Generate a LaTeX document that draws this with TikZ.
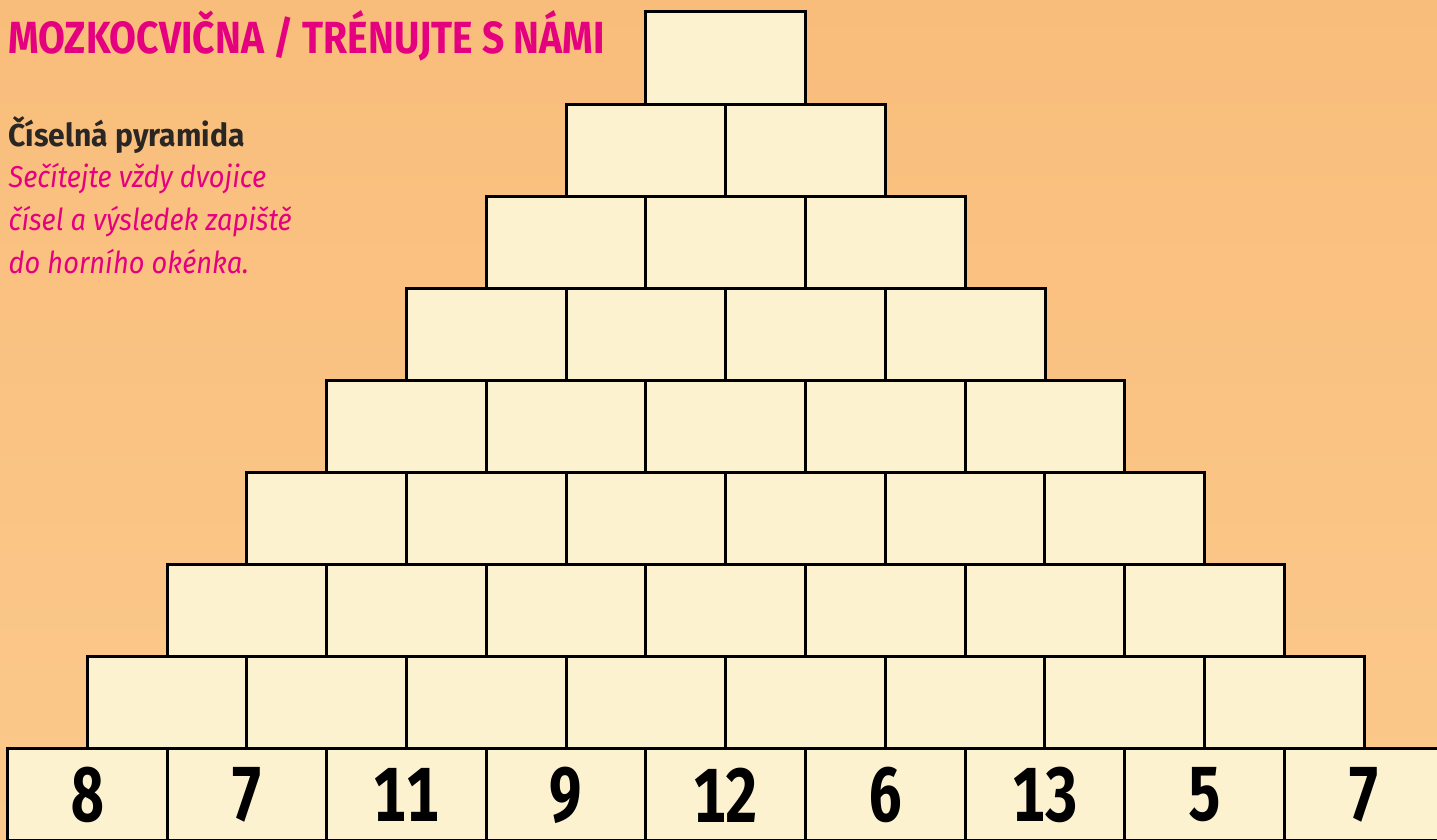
\documentclass[tikz,border=0pt]{standalone}
\usepackage{fontspec}
\newfontfamily\titlefont[FakeStretch=0.865]{Fira Sans}
\newfontfamily\puzzlefont[FakeStretch=0.95]{Fira Sans}
\newfontfamily\hintfont[FakeStretch=0.90]{Fira Sans}
\newfontfamily\numfont[FakeStretch=0.76, Numbers=Monospaced]{Fira Sans}

\definecolor{bgtop}{RGB}{249,189,123}
\definecolor{bgmid}{RGB}{252,207,145}
\definecolor{bgbottom}{RGB}{251,201,139}
\definecolor{brickfill}{RGB}{253,242,208}
\definecolor{titlepink}{RGB}{228,0,127}
\definecolor{darktext}{RGB}{42,38,36}

\tikzset{
    brick/.style={draw=black, fill=brickfill, line width=0.85pt,
        minimum width=1.596cm, minimum height=0.921cm, inner sep=0pt},
    headline/.style={anchor=base west, inner sep=0pt},
    hintline/.style={headline, text=titlepink, font=\hintfont\itshape\fontsize{8.6}{10}\selectfont}
}

\begin{document}
\begin{tikzpicture}[x=0.01cm, y=-0.01cm]
    % Page area and orange background
    \useasboundingbox (0,0) rectangle (1437,839);
    \clip (0,0) rectangle (1437,839);
    \shade[top color=bgtop, middle color=bgmid, bottom color=bgbottom] (0,0) rectangle (1437,839);

    % Title and instructions
    \node[headline, text=titlepink, font=\titlefont\bfseries\fontsize{12.8}{15}\selectfont] (title) at (8,53) {MOZKOCVIČNA / TRÉNUJTE S NÁMI};
    \node[headline, text=darktext, font=\puzzlefont\bfseries\fontsize{9}{11}\selectfont] (puzzle) at (8,146) {Číselná pyramida};
    \node[hintline] (hint1) at (8,187) {Sečítejte vždy dvojice};
    \node[hintline] (hint2) at (8,230) {čísel a výsledek zapiště};
    \node[hintline] (hint3) at (8,273) {do horního okénka.};

    % Empty rows of the pyramid
    \foreach \r in {0,...,7} {
        \foreach \k in {0,...,\r} {
            \node[brick] (b-\r-\k) at ({725.8+(\k-\r/2)*159.6},{58.05+\r*92.1}) {};
        }
    }

    % Bottom row with the given numbers
    \foreach \n [count=\k from 0] in {8,7,11,9,12,6,13,5,7} {
        \node[brick, font=\numfont\bfseries\fontsize{21.8}{24}\selectfont] (b-8-\k) at ({725.8+(\k-4)*159.6},794.85) {\n};
    }
\end{tikzpicture}
\end{document}
